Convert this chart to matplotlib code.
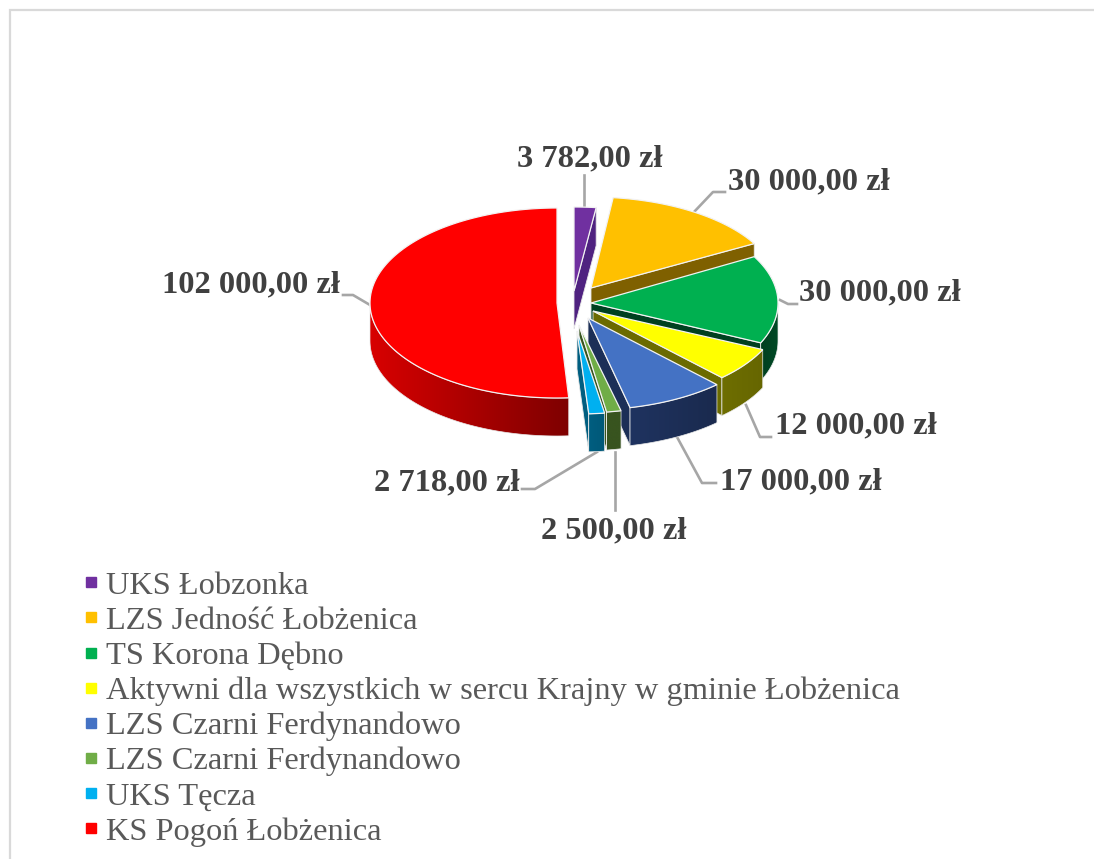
import numpy as np
import matplotlib
matplotlib.use("Agg")
import matplotlib.pyplot as plt
from matplotlib.patches import Polygon
from matplotlib.lines import Line2D
from matplotlib.colors import to_rgb

# ---- data ----
names = ["UKS Łobzonka", "LZS Jedność Łobżenica", "TS Korona Dębno",
         "Aktywni dla wszystkich w sercu Krajny w gminie Łobżenica",
         "LZS Czarni Ferdynandowo", "LZS Czarni Ferdynandowo",
         "UKS Tęcza", "KS Pogoń Łobżenica"]
values = [3782, 30000, 30000, 12000, 17000, 2500, 2718, 102000]
value_labels = ["3 782,00 zł", "30 000,00 zł", "30 000,00 zł", "12 000,00 zł",
                "17 000,00 zł", "2 500,00 zł", "2 718,00 zł", "102 000,00 zł"]

# ---- style / layout ----
top_colors = ["#7030A0", "#FFC000", "#00B050", "#FFFF00", "#4472C4", "#70AD47", "#00B0F0", "#FF0000"]
face_colors = ["#4F2280", "#7F6000", "#004020", "#6B6B00", "#1C2F57", "#38541F", "#005E80", "#800000"]
wall_left = ["#4F2280", "#7F6000", "#003F1F", "#6E6E00", "#1F3360", "#38541F", "#005E80", "#D80000"]
wall_right = ["#4F2280", "#7F6000", "#004A26", "#666600", "#1A2A4E", "#38541F", "#005878", "#7E0000"]
cx, cy = 573, 302
rx, depth = 187, 38
off_x = [1, 18, 18, 20, 15, 6, 4, -16]
off_y = [-11, -14, 1, 9, 16, 23, 29, 1]
ry = [84, 91, 95, 92, 92, 88, 83, 95]
leaders = [[(584, 207), (584, 175)],
           [(694, 212), (713, 192), (725, 192)],
           [(780, 300), (788, 304), (797, 304)],
           [(746, 405), (760, 437), (771, 437)],
           [(677, 437), (702, 483), (716, 483)],
           [(615, 452), (615, 510)],
           [(597, 452), (535, 489), (522, 489)],
           [(370, 305), (353, 295), (343, 295)]]
label_pos = [(590, 159, "center"), (728, 182, "left"), (799, 293, "left"), (775, 426, "left"),
             (720, 482, "left"), (614, 531, "center"), (520, 483, "right"), (340, 285, "right")]

serif = "Liberation Serif"
fig = plt.figure(figsize=(10.94, 8.59), dpi=100)
ax = fig.add_axes([0, 0, 1, 1])
ax.axis("off")

# chart frame
ax.plot([10, 10, 1094], [859, 10, 10], color="#D9D9D9", lw=1.6, solid_joinstyle="miter", zorder=0)

ends = np.cumsum(values) / np.sum(values) * 360
starts = np.r_[0, ends[:-1]]


def rim(i, theta):
    t = np.radians(theta)
    return cx + off_x[i] + rx * np.sin(t), cy + off_y[i] - ry[i] * np.cos(t)


z = 2
order = [7] + list(range(7))
for i in order:
    a, b = starts[i], ends[i]
    ax_, ay_ = cx + off_x[i], cy + off_y[i]
    # cut face at the closing edge
    if 0 < b < 180:
        ex, ey = rim(i, b)
        ax.add_patch(Polygon([(ax_, ay_), (ex, ey), (ex, ey + depth), (ax_, ay_ + depth)],
                             closed=True, fc=face_colors[i], ec="#E8E8E8", lw=0.6, zorder=z))
        z += 1
    # outer wall: a horizontal gradient clipped to the wall outline
    lo, hi = max(a, 90), min(b, 270)
    if hi > lo:
        th = np.linspace(lo, hi, 80)
        xs, ys = rim(i, th)
        outline = list(zip(xs, ys)) + list(zip(xs[::-1], ys[::-1] + depth))
        wall = Polygon(outline, closed=True, fc="none", ec="#E8E8E8", lw=0.5, zorder=z + 0.5)
        ax.add_patch(wall)
        c0 = np.array(to_rgb(wall_left[i]))
        c1 = np.array(to_rgb(wall_right[i]))
        grad = np.linspace(0, 1, 256)[None, :, None]
        img = ax.imshow(c0 + (c1 - c0) * grad, aspect="auto", zorder=z, interpolation="bilinear",
                        extent=(xs.min(), xs.max(), ys.max() + depth, ys.min()))
        img.set_clip_path(wall)
        z += 1
    # top surface
    th = np.linspace(a, b, max(int(b - a) * 2, 4))
    xs, ys = rim(i, th)
    pts = [(ax_, ay_)] + list(zip(xs, ys))
    ax.add_patch(Polygon(pts, closed=True, fc=top_colors[i], ec="#F2F2F2", lw=0.9,
                         joinstyle="miter", zorder=z))
    z += 1

for i, pts in enumerate(leaders):
    p = np.array(pts)
    ax.plot(p[:, 0], p[:, 1], color="#A6A6A6", lw=1.9, zorder=1)
    x, y, ha = label_pos[i]
    ax.text(x, y, value_labels[i], family=serif, weight="bold", fontsize=23.4, color="#404040",
            ha=ha, va="center", zorder=100)

ax.set_xlim(0, 1094)
ax.set_ylim(859, 0)

handles = [Line2D([], [], ls="none", marker="s", ms=7, mfc=c, mec=c, label=n)
           for c, n in zip(top_colors, names)]
ax.legend(handles=handles, loc="upper left", bbox_to_anchor=(77 / 1094, 1 - 571 / 859),
          bbox_transform=fig.transFigure, frameon=False, borderpad=0, borderaxespad=0,
          handlelength=0.85, handletextpad=0.04, labelspacing=0.165, labelcolor="#595959",
          prop={"family": serif, "size": 23.4})

fig.savefig("out.png", dpi=100)
